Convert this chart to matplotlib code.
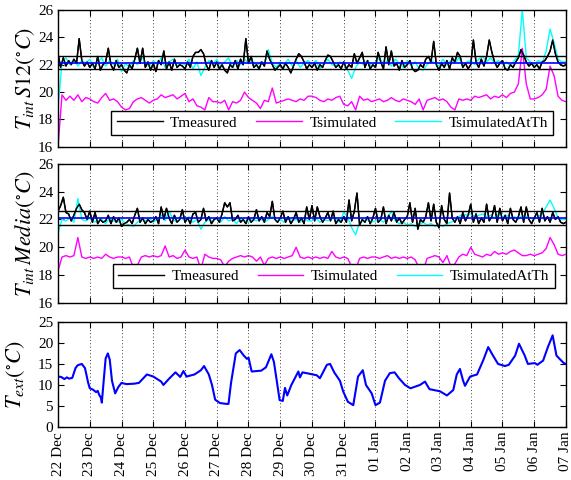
import numpy as np
import matplotlib
matplotlib.use('Agg')
import matplotlib.pyplot as plt

plt.rcParams['font.family'] = ['Liberation Serif', 'DejaVu Serif']
plt.rcParams['mathtext.fontset'] = 'stix'

# x axis: days since 22 Dec
date_labels = ['22 Dec', '23 Dec', '24 Dec', '25 Dec', '26 Dec', '27 Dec', '28 Dec', '29 Dec',
               '30 Dec', '31 Dec', '01 Jan', '02 Jan', '03 Jan', '04 Jan', '05 Jan', '06 Jan', '07 Jan']

# S12 room, measured (2 hour steps)
s12_measured = [
    22.8, 21.8, 22.5, 21.9, 22.3, 22.0, 22.4, 22.1, 23.9, 22.3, 21.9, 22.2,
    21.8, 22.1, 21.7, 22.6, 21.6, 22.0, 22.2, 23.2, 22.0, 21.6, 22.3, 21.8,
    22.0, 21.6, 21.4, 22.0, 21.7, 22.4, 23.2, 22.1, 23.2, 21.8, 22.2, 21.6,
    22.1, 21.5, 22.3, 22.0, 23.0, 21.7, 22.2, 21.6, 22.4, 21.8, 22.0, 21.9,
    21.7, 22.2, 21.8, 22.6, 22.9, 22.9, 23.1, 22.8, 22.0, 21.6, 22.3, 21.8,
    22.2, 21.7, 22.0, 21.6, 21.4, 22.0, 21.8, 22.3, 21.7, 22.4, 22.0, 23.9,
    22.1, 22.6, 21.8, 22.0, 21.7, 22.2, 21.9, 23.0, 22.4, 22.0, 21.6, 21.8,
    22.0, 21.7, 22.1, 21.8, 21.4, 21.9, 22.4, 22.8, 22.6, 22.2, 21.7, 22.0,
    21.8, 22.1, 21.6, 22.0, 21.8, 22.3, 22.7, 22.6, 22.2, 21.8, 22.0, 21.7,
    22.2, 21.7, 22.0, 21.8, 22.8, 22.1, 22.5, 22.9, 21.8, 22.3, 21.7, 22.0,
    21.8, 22.9, 22.2, 21.7, 23.3, 22.0, 23.0, 21.9, 22.1, 21.6, 22.3, 21.8,
    22.0, 22.3, 21.7, 21.5, 21.6, 22.0, 21.8, 22.4, 22.6, 22.2, 23.7, 22.0,
    21.6, 22.1, 21.8, 22.3, 21.7, 22.5, 22.2, 22.9, 22.6, 21.8, 22.1, 21.7,
    22.0, 23.8, 22.2, 21.8, 22.4, 21.9, 22.6, 23.8, 22.9, 22.2, 21.8, 22.1,
    22.3, 21.7, 21.6, 22.0, 21.8, 22.2, 22.5, 23.1, 22.7, 22.2, 21.9, 22.1,
    21.8, 22.0, 21.7, 22.2, 22.3, 22.6, 23.0, 23.8, 22.8, 22.2, 22.0, 21.9,
    22.0]

# S12 room, simulated (3 hour steps)
s12_simulated = [
    16.0, 19.8, 19.4, 19.7, 19.4, 19.8, 19.3, 19.6,
    19.5, 19.3, 19.2, 19.6, 19.9, 19.4, 19.5, 19.3,
    18.9, 18.7, 18.8, 19.3, 19.5, 19.6, 19.4, 19.2,
    19.4, 19.5, 19.8, 19.6, 19.7, 19.8, 19.5, 19.7,
    19.9, 19.3, 19.5, 19.0, 18.9, 18.7, 19.6, 19.3,
    19.3, 19.2, 19.4, 18.7, 19.3, 19.2, 19.4, 20.0,
    19.6, 19.4, 19.2, 18.8, 19.4, 19.3, 20.3, 19.2,
    19.3, 19.4, 19.5, 19.4, 19.3, 19.5, 19.4, 19.7,
    19.7, 19.6, 19.4, 19.3, 19.5, 19.4, 19.6, 19.7,
    19.1, 19.0, 19.3, 18.7, 19.7, 19.4, 19.5, 19.3,
    19.4, 19.5, 19.3, 19.4, 19.6, 19.4, 19.3, 19.5,
    19.4, 19.3, 19.1, 19.5, 18.7, 19.4, 19.5, 19.6,
    19.4, 19.5, 19.3, 18.9, 18.7, 19.5, 19.4, 19.5,
    19.4, 19.7, 19.6, 19.7, 19.8, 19.5, 19.7, 19.6,
    19.8, 19.6, 19.9, 20.0, 20.6, 23.2, 20.6, 19.5,
    19.5, 19.6, 19.8, 20.2, 21.9, 21.2, 19.7, 19.4,
    19.3]

# S12 room, simulated at thermostat (3 hour steps)
s12_sim_at_th = [
    18.8, 22.2, 22.5, 22.0, 22.4, 21.9, 22.3, 22.1,
    22.4, 21.8, 22.2, 22.5, 21.9, 22.3, 22.0, 22.4,
    21.5, 22.1, 21.8, 22.3, 22.0, 22.6, 22.2, 21.9,
    22.3, 22.0, 22.5, 21.8, 22.2, 22.4, 21.9, 22.1,
    22.0, 22.4, 21.7, 22.2, 21.2, 21.8, 22.3, 22.0,
    22.4, 21.9, 22.2, 22.5, 21.8, 22.3, 22.0, 22.4,
    22.1, 22.3, 21.9, 22.2, 22.0, 23.1, 22.1, 21.8,
    22.2, 22.0, 22.4, 21.9, 22.3, 21.8, 22.1, 22.3,
    22.0, 22.3, 21.7, 22.1, 22.4, 22.0, 21.9, 22.2,
    22.1, 21.6, 21.0, 21.8, 22.2, 22.0, 22.3, 21.9,
    22.2, 22.5, 22.0, 22.3, 21.9, 22.4, 22.1, 21.8,
    22.3, 21.9, 22.2, 21.7, 21.6, 22.0, 22.3, 22.1,
    21.9, 22.4, 22.0, 22.3, 22.1, 22.5, 22.0, 22.2,
    22.3, 22.0, 22.4, 22.6, 22.2, 22.5, 22.1, 22.3,
    22.0, 22.2, 21.9, 22.3, 22.7, 26.0, 22.5, 22.2,
    22.0, 22.3, 22.1, 23.0, 24.6, 23.6, 22.4, 22.2,
    22.2]

# mean room temperature, measured (2 hour steps)
media_measured = [
    22.6, 23.0, 23.6, 22.5, 22.4, 21.9, 22.3, 22.8, 23.1, 22.7, 22.5, 22.0,
    22.6, 21.8, 22.5, 21.7, 22.0, 21.8, 21.9, 22.3, 21.7, 22.2, 21.8, 22.1,
    21.5, 21.7, 21.8, 22.0, 21.7, 22.3, 22.8, 21.8, 22.1, 21.7, 22.0, 21.8,
    21.9, 22.2, 21.7, 22.9, 22.0, 22.8, 22.1, 21.7, 22.3, 21.8, 22.0, 22.7,
    21.8, 22.1, 21.7, 22.4, 22.5, 21.8, 22.0, 22.8, 21.9, 22.2, 21.7, 22.0,
    22.1, 21.8, 22.4, 23.2, 22.9, 23.2, 21.9, 22.0, 22.3, 21.8, 22.0, 21.7,
    22.2, 21.8, 22.0, 22.7, 21.9, 22.2, 21.8, 22.5, 22.2, 23.3, 22.0, 21.8,
    22.1, 22.6, 21.8, 22.2, 21.7, 22.0, 22.5, 21.8, 22.1, 21.7, 22.9, 22.0,
    23.0, 21.9, 22.9, 22.2, 21.8, 22.1, 22.5, 21.9, 22.6, 21.7, 22.0, 21.8,
    22.2, 21.8, 23.4, 21.9, 22.6, 23.9, 21.6, 22.0, 21.8, 22.2, 21.7, 22.1,
    22.8, 21.8, 22.0, 22.9, 21.7, 22.3, 21.9, 22.5, 21.8, 22.1, 21.7, 22.0,
    22.2, 23.2, 21.8, 22.8, 21.3, 22.0, 21.8, 22.2, 23.2, 21.9, 23.1, 21.8,
    21.4, 23.0, 22.0, 21.7, 23.9, 22.1, 21.8, 22.2, 21.7, 22.5, 21.9, 22.3,
    23.1, 21.8, 22.4, 21.7, 22.1, 21.8, 23.1, 21.9, 22.2, 23.0, 21.8, 22.8,
    21.9, 22.3, 21.7, 22.8, 22.0, 21.8, 22.2, 22.9, 21.8, 22.9, 22.0, 21.7,
    22.1, 22.5, 21.8, 22.8, 21.9, 22.2, 21.8, 22.5, 22.0, 22.2, 21.8, 21.7,
    21.8]

# mean room temperature, simulated (3 hour steps)
media_simulated = [
    18.3, 19.3, 19.4, 19.3, 19.4, 20.7, 19.3, 19.2,
    19.3, 19.2, 19.3, 19.2, 19.5, 19.3, 19.2, 19.3,
    19.3, 19.2, 19.3, 18.5, 18.7, 19.3, 19.4, 19.3,
    19.4, 19.3, 19.4, 20.1, 19.3, 19.4, 19.2, 19.3,
    19.8, 19.3, 19.2, 19.3, 18.4, 19.5, 19.3, 19.2,
    19.2, 19.1, 18.6, 19.0, 19.2, 19.3, 19.4, 19.3,
    19.4, 19.3, 19.0, 19.3, 18.7, 19.2, 19.3, 19.2,
    19.3, 19.2, 19.3, 19.4, 20.0, 19.3, 19.2, 19.3,
    19.2, 19.3, 19.2, 19.3, 19.2, 19.7, 19.3, 19.2,
    19.3, 19.2, 18.6, 18.4, 19.2, 19.3, 19.2, 19.3,
    19.3, 19.2, 19.3, 19.4, 19.2, 19.3, 19.2, 19.3,
    19.2, 19.3, 19.1, 18.5, 18.3, 19.2, 19.3, 19.4,
    19.3, 18.9, 19.4, 18.6, 18.8, 19.3, 19.5, 19.4,
    20.0, 19.5, 19.4, 19.3, 19.5, 19.4, 19.7, 19.5,
    19.6, 19.5, 19.7, 19.8, 19.6, 19.4, 19.4, 19.5,
    19.4, 19.5, 19.6, 19.9, 20.7, 20.2, 19.5, 19.4,
    19.5]

# mean room temperature, simulated at thermostat (3 hour steps)
media_sim_at_th = [
    21.0, 22.0, 21.9, 22.1, 21.8, 23.5, 22.0, 21.9,
    22.1, 21.8, 21.9, 22.0, 21.7, 22.1, 21.9, 21.8,
    22.0, 21.7, 21.6, 21.5, 21.8, 22.0, 21.9, 22.1,
    21.8, 22.0, 22.3, 21.9, 22.6, 22.0, 21.8, 22.1,
    21.9, 22.2, 21.8, 22.0, 21.3, 21.8, 22.0, 21.9,
    22.1, 21.8, 22.2, 21.9, 22.0, 21.7, 22.1, 21.9,
    21.8, 22.0, 21.9, 22.1, 21.8, 22.0, 22.2, 21.9,
    22.0, 21.8, 22.1, 21.9, 22.0, 21.8, 22.1, 21.9,
    21.9, 22.1, 21.8, 22.0, 21.9, 22.1, 22.0, 21.8,
    22.5, 22.2, 21.4, 20.9, 21.8, 21.9, 22.0, 21.8,
    21.9, 22.0, 21.8, 22.1, 22.6, 21.9, 21.7, 21.8,
    21.6, 21.7, 21.5, 21.6, 21.8, 21.6, 21.7, 21.5,
    21.6, 21.5, 21.7, 21.8, 21.9, 22.2, 22.4, 22.3,
    22.4, 22.2, 22.3, 22.4, 22.2, 22.3, 22.1, 22.4,
    22.2, 22.3, 22.1, 22.2, 22.0, 22.3, 22.2, 22.1,
    22.0, 22.2, 22.4, 22.9, 23.4, 22.8, 22.1, 22.0,
    22.0]

# comfort band and setpoint lines
s12_band = [21.65, 22.65]
s12_setpoint = 22.15
media_band = [21.6, 22.6]
media_setpoint = 22.1

# outdoor temperature (irregular readings, days since 22 Dec)
ext_days = [0.0, 0.1, 0.2, 0.28, 0.35, 0.45, 0.55, 0.62, 0.75, 0.85, 0.95, 1.0, 1.1, 1.2,
            1.25, 1.3, 1.35, 1.38, 1.45, 1.5, 1.57, 1.63, 1.7, 1.8, 1.9, 2.0, 2.15, 2.4,
            2.55, 2.8, 3.0, 3.25, 3.32, 3.5, 3.7, 3.85, 3.95, 4.05, 4.3, 4.5, 4.6, 4.75,
            4.85, 4.95, 5.1, 5.3, 5.37, 5.45, 5.6, 5.72, 5.85, 5.95, 6.0, 6.1, 6.4, 6.55,
            6.72, 6.8, 6.9, 6.98, 7.08, 7.15, 7.22, 7.35, 7.57, 7.62, 7.7, 7.9, 8.15, 8.25,
            8.47, 8.57, 8.7, 8.88, 8.98, 9.13, 9.3, 9.45, 9.6, 9.7, 9.88, 10.0, 10.14, 10.3,
            10.45, 10.6, 10.75, 10.93, 11.1, 11.4, 11.56, 11.7, 12.03, 12.25, 12.45, 12.56,
            12.66, 12.76, 12.82, 12.98, 13.2, 13.4, 13.55, 13.7, 13.86, 14.08, 14.2, 14.4,
            14.52, 14.7, 14.8, 15.02, 15.1, 15.28, 15.43, 15.58, 15.7, 15.8, 15.93, 16.0]
ext_temp = [12.0, 11.9, 11.4, 11.8, 11.5, 11.7, 14.0, 14.7, 15.0, 14.0, 10.5, 9.2, 8.9, 8.3,
            8.6, 7.6, 7.0, 5.8, 12.0, 16.3, 17.5, 16.0, 11.0, 8.0, 9.5, 10.5, 10.2, 10.3,
            10.5, 12.5, 12.0, 10.8, 10.0, 11.5, 13.0, 11.9, 13.3, 12.0, 12.5, 13.5, 14.5, 12.5,
            10.0, 6.5, 5.7, 5.5, 5.5, 10.5, 17.5, 18.3, 17.0, 16.2, 16.5, 13.2, 13.4, 14.2,
            17.3, 15.5, 10.5, 6.4, 6.2, 9.3, 7.5, 10.0, 13.2, 11.8, 13.0, 12.7, 12.3, 11.6,
            14.8, 15.0, 13.0, 11.0, 8.5, 6.0, 5.2, 12.0, 13.5, 10.0, 8.0, 5.2, 5.8, 11.0,
            12.8, 13.0, 11.5, 10.0, 9.2, 10.0, 10.8, 9.0, 8.5, 7.5, 8.8, 12.5,
            13.8, 11.0, 9.8, 12.0, 12.5, 16.0, 19.0, 17.0, 15.0, 14.5, 14.8, 17.0,
            19.8, 17.0, 15.0, 15.2, 14.8, 15.8, 19.0, 21.8, 17.0, 16.2, 15.2, 15.0]

t2 = np.arange(len(s12_measured)) / 12.0
t3 = np.arange(len(s12_simulated)) / 8.0
days = np.arange(len(date_labels))


def styleAxis(ax, ylim, yticks, show_dates):
    ax.set_xlim(0, 16)
    ax.set_ylim(*ylim)
    ax.set_yticks(yticks)
    ax.set_xticks(days)
    ax.grid(axis='x', color='k', linestyle=(0, (1, 3)), linewidth=0.6)
    ax.tick_params(direction='in', top=True, right=True, labelsize=11, length=4)
    if show_dates:
        ax.set_xticklabels(date_labels, rotation=90)
    else:
        ax.set_xticklabels([])
    for sp in ax.spines.values():
        sp.set_linewidth(1.0)


def roomPanel(ax, measured, simulated, sim_at_th, band, setpoint, ylabel, legend_anchor):
    ax.plot(t2, measured, color='k', lw=1.0, label='Tmeasured')
    ax.plot(t3, simulated, color='#ff00ff', lw=1.0, label='Tsimulated')
    ax.plot(t3, sim_at_th, color='#00ffff', lw=1.0, label='TsimulatedAtTh')
    ax.plot(t2, measured, color='k', lw=1.0)
    for b in band:
        ax.axhline(b, color='k', lw=1.0)
    ax.axhline(setpoint, color='#0000ff', lw=1.2)
    styleAxis(ax, (16, 26), [16, 18, 20, 22, 24, 26], False)
    ax.set_ylabel(ylabel, fontsize=16, labelpad=1)
    leg = ax.legend(ncol=3, loc='lower right', bbox_to_anchor=legend_anchor, fontsize=11,
                    handlelength=3.0, columnspacing=1.2, fancybox=False, borderpad=0.35,
                    handletextpad=0.5, framealpha=1.0)
    leg.get_frame().set_edgecolor('k')
    leg.get_frame().set_linewidth(1.0)


fig = plt.figure(figsize=(5.71, 4.8), dpi=100)
ax1 = fig.add_axes([0.1016, 0.694, 0.8896, 0.2854])
ax2 = fig.add_axes([0.1016, 0.369, 0.8896, 0.2896])
ax3 = fig.add_axes([0.1016, 0.1104, 0.8896, 0.219])

roomPanel(ax1, s12_measured, s12_simulated, s12_sim_at_th, s12_band, s12_setpoint,
          r'$T_{int}\,S12(^{\circ}C)$', (0.99, 0.03))
roomPanel(ax2, media_measured, media_simulated, media_sim_at_th, media_band, media_setpoint,
          r'$T_{int}\,Media(^{\circ}C)$', (0.993, 0.05))

ax3.plot(ext_days, ext_temp, color='#0000ff', lw=1.5)
styleAxis(ax3, (0, 25), [0, 5, 10, 15, 20, 25], True)
ax3.set_ylabel(r'$T_{ext}(^{\circ}C)$', fontsize=16, labelpad=8)

fig.savefig('out.png', dpi=100)
